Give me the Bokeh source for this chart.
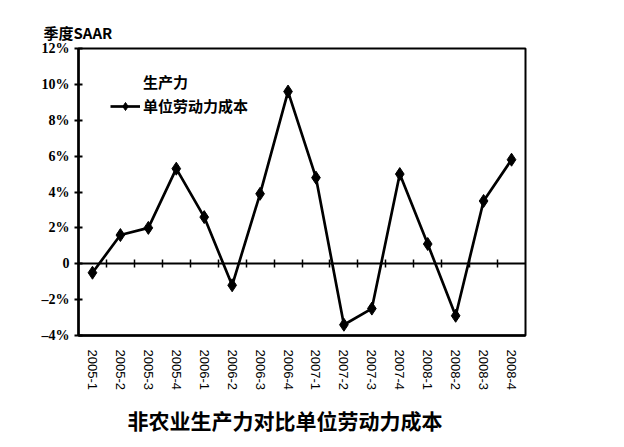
import numpy as np
from bokeh.plotting import figure
from bokeh.models import Range1d, LinearAxis, FixedTicker, Legend, LegendItem, Title
from bokeh.embed import file_html
from bokeh.resources import INLINE

# ---- data ----
quarters = ["2005-1", "2005-2", "2005-3", "2005-4",
            "2006-1", "2006-2", "2006-3", "2006-4",
            "2007-1", "2007-2", "2007-3", "2007-4",
            "2008-1", "2008-2", "2008-3", "2008-4"]
unit_labor_cost = [-0.5, 1.6, 2.0, 5.3, 2.6, -1.2, 3.9, 9.6,
                   4.8, -3.4, -2.5, 5.0, 1.1, -2.9, 3.5, 5.8]
productivity = []  # series not visible in the reference
y_ticks = [-4, -2, 0, 2, 4, 6, 8, 10, 12]
y_tick_labels = ["–4%", "–2%", "0", "2%", "4%", "6%", "8%", "10%", "12%"]
series_names = ["生产力", "单位劳动力成本"]
y_axis_title = "季度SAAR"
chart_title = "非农业生产力对比单位劳动力成本"

n = len(quarters)
xpos = [i + 0.5 for i in range(n)]
boundaries = list(range(1, n))

CJK = "Noto Sans CJK SC"

p = figure(frame_width=447, frame_height=287,
           x_range=Range1d(0, n), y_range=Range1d(y_ticks[0], y_ticks[-1]),
           output_backend="svg", toolbar_location=None,
           min_border_left=78, min_border_right=83,
           min_border_top=48, min_border_bottom=96)
p.background_fill_color = "white"
p.border_fill_color = "white"
p.outline_line_color = "black"
p.outline_line_width = 2
p.xgrid.visible = False
p.ygrid.visible = False

# y axis
ya = p.yaxis[0]
ya.ticker = FixedTicker(ticks=y_ticks)
ya.major_label_overrides = {t: s for t, s in zip(y_ticks, y_tick_labels)}
ya.major_label_text_font = "Liberation Serif"
ya.major_label_text_font_style = "bold"
ya.major_label_text_font_size = "14px"
ya.major_label_text_color = "black"
ya.axis_line_width = 2.5
ya.axis_line_color = "black"
ya.major_tick_in = 4
ya.major_tick_out = 4
ya.major_tick_line_width = 2
ya.minor_tick_line_color = None
ya.major_label_standoff = 5

# x axis (labels)
xa = p.xaxis[0]
xa.ticker = FixedTicker(ticks=xpos)
xa.major_label_overrides = {x: q for x, q in zip(xpos, quarters)}
xa.major_label_orientation = "vertical"
xa.major_label_text_font = "Liberation Sans"
xa.major_label_text_font_size = "13px"
xa.major_label_text_color = "black"
xa.major_tick_line_color = None
xa.major_tick_out = 0
xa.major_tick_in = 0
xa.minor_tick_line_color = None
xa.axis_line_width = 2.5
xa.axis_line_color = "black"
xa.major_label_standoff = 14

# zero axis with boundary ticks (drawn at y = 0)
za = LinearAxis(fixed_location=0, ticker=FixedTicker(ticks=boundaries))
za.major_label_overrides = {b: "" for b in boundaries}
za.major_label_text_font_size = "1px"
za.major_label_standoff = 0
za.major_tick_in = 4
za.major_tick_out = 4
za.major_tick_line_width = 1.5
za.minor_tick_line_color = None
za.axis_line_width = 2
za.axis_line_color = "black"
p.add_layout(za, "above")

# titles
top_title = Title(text=y_axis_title, align="left", offset=-35, standoff=12,
                  text_font=CJK, text_font_style="bold", text_font_size="15px",
                  text_color="black")
p.add_layout(top_title, "above")
bottom_title = Title(text=chart_title, align="left", offset=49, standoff=21,
                     text_font=CJK, text_font_style="bold", text_font_size="21px",
                     text_color="black")
p.add_layout(bottom_title, "below")

# series
prod_r = p.line(x=[], y=[], line_alpha=0)
ulc_line = p.line(x=xpos, y=unit_labor_cost, line_color="black", line_width=2.7)
ulc_pts = p.scatter(x=xpos, y=unit_labor_cost, marker="diamond", size=13,
                    fill_color="black", line_color="black")

legend = Legend(items=[LegendItem(label=series_names[0], renderers=[prod_r]),
                       LegendItem(label=series_names[1], renderers=[ulc_line, ulc_pts])],
                location=(32, 219))
legend.border_line_color = None
legend.background_fill_alpha = 0
legend.padding = 0
legend.margin = 0
legend.spacing = 3
legend.glyph_width = 30
legend.glyph_height = 20
legend.label_height = 20
legend.label_standoff = 3
legend.label_text_font = CJK
legend.label_text_font_style = "bold"
legend.label_text_font_size = "15px"
legend.label_text_color = "black"
p.add_layout(legend, "center")

open("out.html", "w").write(file_html(p, INLINE))
